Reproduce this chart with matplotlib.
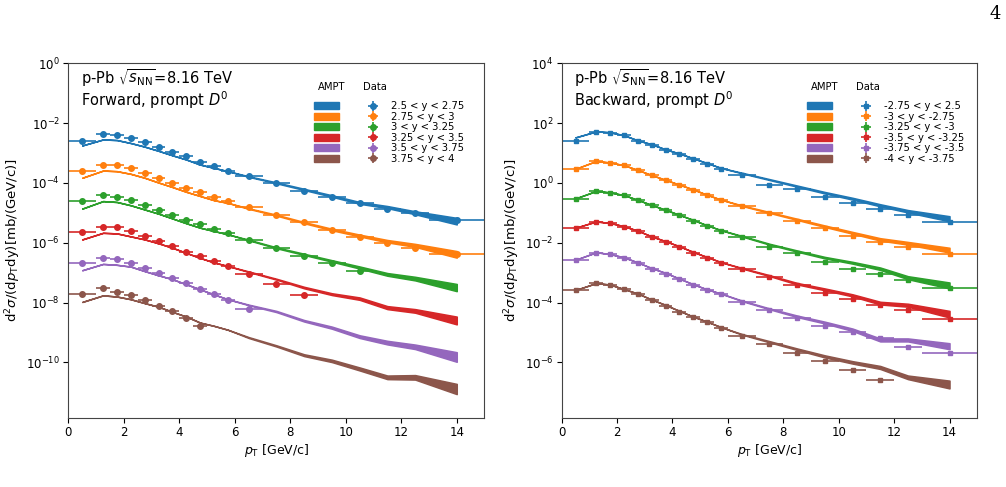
import numpy as np
import matplotlib.pyplot as plt
from matplotlib.patches import Patch

# pT bins [GeV/c]
pt_edges = [0, 1, 1.5, 2, 2.5, 3, 3.5, 4, 4.5, 5, 5.5, 6, 7, 8, 9, 10, 11, 12, 13, 15]

fwd_labels = ['2.5 < y < 2.75', '2.75 < y < 3', '3 < y < 3.25',
              '3.25 < y < 3.5', '3.5 < y < 3.75', '3.75 < y < 4']
bwd_labels = ['-2.75 < y < 2.5', '-3 < y < -2.75', '-3.25 < y < -3',
              '-3.5 < y < -3.25', '-3.75 < y < -3.5', '-4 < y < -3.75']

# log10 of the (scaled) cross sections as plotted
fwd_data = [
    [-2.61, -2.36, -2.40, -2.50, -2.63, -2.79, -2.96, -3.11, -3.29, -3.45, -3.59, -3.78, -4.01, -4.26, -4.48, -4.69, -4.89, -5.00, -5.25],
    [-3.61, -3.39, -3.42, -3.52, -3.68, -3.83, -4.01, -4.18, -4.32, -4.48, -4.61, -4.82, -5.08, -5.32, -5.58, -5.81, -6.00, -6.17, -6.38],
    [-4.61, -4.39, -4.47, -4.58, -4.73, -4.91, -5.07, -5.23, -5.38, -5.55, -5.68, -5.91, -6.19, -6.43, -6.68, -6.96],
    [-5.65, -5.46, -5.49, -5.60, -5.79, -5.96, -6.12, -6.30, -6.46, -6.62, -6.79, -7.06, -7.37, -7.76],
    [-6.69, -6.50, -6.53, -6.69, -6.83, -7.00, -7.19, -7.36, -7.55, -7.70, -7.90, -8.22],
    [-7.73, -7.52, -7.65, -7.76, -7.92, -8.11, -8.28, -8.51, -8.79],
]
fwd_ampt = [
    [-2.75, -2.55, -2.57, -2.67, -2.79, -2.93, -3.08, -3.22, -3.39, -3.50, -3.61, -3.79, -4.00, -4.22, -4.44, -4.67, -4.81, -5.00, -5.28],
    [-3.83, -3.59, -3.61, -3.70, -3.83, -3.99, -4.14, -4.30, -4.44, -4.58, -4.67, -4.86, -5.08, -5.33, -5.56, -5.76, -5.95, -6.09, -6.39],
    [-4.86, -4.61, -4.64, -4.75, -4.89, -5.03, -5.19, -5.35, -5.50, -5.61, -5.72, -5.91, -6.17, -6.39, -6.61, -6.83, -7.06, -7.20, -7.50],
    [-5.89, -5.67, -5.69, -5.79, -5.89, -6.02, -6.17, -6.34, -6.51, -6.66, -6.78, -6.97, -7.22, -7.50, -7.72, -7.87, -8.17, -8.28, -8.60],
    [-6.92, -6.71, -6.74, -6.80, -6.95, -7.09, -7.22, -7.39, -7.56, -7.73, -7.89, -8.08, -8.30, -8.61, -8.84, -9.14, -9.34, -9.48, -9.82],
    [-7.98, -7.76, -7.80, -7.89, -8.02, -8.14, -8.31, -8.47, -8.67, -8.78, -8.91, -9.17, -9.45, -9.76, -9.95, -10.22, -10.50, -10.50, -10.89],
]
# AMPT band width in decades
fwd_band = [
    [0, 0, 0, 0, 0, 0, 0, 0, 0, 0, 0, 0.02, 0.03, 0.04, 0.05, 0.06, 0.07, 0.10, 0.22],
    [0, 0, 0, 0, 0, 0, 0, 0, 0, 0, 0, 0.02, 0.03, 0.04, 0.05, 0.06, 0.08, 0.10, 0.22],
    [0, 0, 0, 0, 0, 0, 0, 0, 0, 0, 0, 0.02, 0.03, 0.04, 0.05, 0.07, 0.09, 0.12, 0.24],
    [0, 0, 0, 0, 0, 0, 0, 0, 0, 0, 0, 0.02, 0.03, 0.05, 0.06, 0.08, 0.10, 0.12, 0.26],
    [0, 0, 0, 0, 0, 0, 0, 0, 0, 0, 0, 0.02, 0.04, 0.05, 0.07, 0.09, 0.12, 0.15, 0.32],
    [0, 0, 0, 0, 0, 0, 0, 0, 0, 0, 0, 0.03, 0.04, 0.06, 0.08, 0.10, 0.12, 0.15, 0.34],
]

bwd_data = [
    [1.39, 1.70, 1.68, 1.59, 1.41, 1.28, 1.11, 0.97, 0.80, 0.63, 0.47, 0.25, -0.06, -0.22, -0.48, -0.67, -0.86, -1.08, -1.30],
    [0.47, 0.72, 0.67, 0.59, 0.42, 0.25, 0.09, -0.07, -0.23, -0.41, -0.58, -0.78, -1.02, -1.28, -1.52, -1.79, -1.97, -2.13, -2.39],
    [-0.53, -0.28, -0.33, -0.42, -0.58, -0.75, -0.91, -1.09, -1.26, -1.45, -1.61, -1.80, -2.13, -2.36, -2.65, -2.87, -3.05, -3.25, -3.53],
    [-1.52, -1.30, -1.35, -1.46, -1.61, -1.80, -1.97, -2.13, -2.33, -2.50, -2.68, -2.89, -3.15, -3.42, -3.67, -3.89, -4.09, -4.25, -4.56],
    [-2.58, -2.33, -2.39, -2.50, -2.68, -2.87, -3.03, -3.22, -3.41, -3.58, -3.72, -3.97, -4.26, -4.52, -4.78, -5.00, -5.20, -5.47, -5.70],
    [-3.59, -3.36, -3.41, -3.56, -3.72, -3.92, -4.10, -4.30, -4.49, -4.66, -4.85, -5.11, -5.39, -5.67, -5.97, -6.25, -6.58],
]
bwd_ampt = [
    [1.52, 1.72, 1.69, 1.59, 1.42, 1.29, 1.12, 0.98, 0.82, 0.66, 0.50, 0.33, 0.11, -0.11, -0.33, -0.53, -0.75, -0.95, -1.20],
    [0.47, 0.73, 0.68, 0.59, 0.43, 0.26, 0.10, -0.06, -0.22, -0.40, -0.56, -0.76, -0.99, -1.22, -1.45, -1.67, -1.89, -2.02, -2.25],
    [-0.52, -0.27, -0.32, -0.41, -0.57, -0.74, -0.90, -1.07, -1.24, -1.42, -1.58, -1.78, -2.05, -2.28, -2.50, -2.67, -2.87, -3.17, -3.43],
    [-1.50, -1.29, -1.34, -1.45, -1.60, -1.79, -1.95, -2.12, -2.31, -2.48, -2.65, -2.85, -3.10, -3.37, -3.56, -3.76, -4.02, -4.09, -4.39],
    [-2.57, -2.32, -2.38, -2.49, -2.66, -2.85, -3.01, -3.20, -3.39, -3.56, -3.70, -3.94, -4.21, -4.46, -4.67, -4.91, -5.25, -5.25, -5.46],
    [-3.58, -3.35, -3.40, -3.55, -3.70, -3.90, -4.08, -4.28, -4.47, -4.64, -4.82, -5.06, -5.31, -5.56, -5.80, -6.00, -6.17, -6.50, -6.74],
]
bwd_band = [
    [0, 0, 0, 0, 0, 0, 0, 0, 0, 0, 0, 0.02, 0.03, 0.04, 0.05, 0.06, 0.07, 0.08, 0.17],
    [0, 0, 0, 0, 0, 0, 0, 0, 0, 0, 0, 0.02, 0.03, 0.04, 0.05, 0.06, 0.08, 0.09, 0.16],
    [0, 0, 0, 0, 0, 0, 0, 0, 0, 0, 0, 0.02, 0.03, 0.04, 0.05, 0.06, 0.08, 0.10, 0.20],
    [0, 0, 0, 0, 0, 0, 0, 0, 0, 0, 0, 0.02, 0.03, 0.05, 0.06, 0.07, 0.09, 0.10, 0.22],
    [0, 0, 0, 0, 0, 0, 0, 0, 0, 0, 0, 0.02, 0.03, 0.05, 0.06, 0.08, 0.10, 0.10, 0.20],
    [0, 0, 0, 0, 0, 0, 0, 0, 0, 0, 0, 0.02, 0.04, 0.05, 0.07, 0.08, 0.10, 0.12, 0.26],
]
stat_rel = 0.15

edges = np.array(pt_edges)
x = (edges[1:] + edges[:-1]) / 2
xerr = (edges[1:] - edges[:-1]) / 2


def draw(ax, data, ampt, band, labels, marker, side, ylim):
    handles = []
    for i in range(6):
        c = 'C%d' % i
        a = np.array(ampt[i])
        w = np.array(band[i])
        ax.fill_between(x, 10 ** (a - w / 2), 10 ** (a + w / 2), color=c, lw=1.1)
        d = 10 ** np.array(data[i])
        n = len(d)
        h = ax.errorbar(x[:n], d, xerr=xerr[:n], yerr=d * stat_rel, fmt=marker,
                        color=c, ms=4 if marker == 'o' else 3.5, elinewidth=1.2, capsize=0)
        handles.append(h)
    ax.set_yscale('log')
    ax.set_xlim(0, 15)
    ax.set_ylim(*ylim)
    ax.set_xticks(range(0, 15, 2))
    ax.tick_params(labelsize=8.5, length=3.5, pad=2.5)
    for s in ax.spines.values():
        s.set_color('#444444')
    ax.set_xlabel(r'$p_{\rm T}$ [GeV/c]', fontsize=9, labelpad=2)
    ax.set_ylabel(r'd$^2\sigma$/(d$p_{\rm T}$dy)[mb/(GeV/c)]', fontsize=9.5, labelpad=2)
    ax.text(0.03, 0.94, r'p-Pb $\sqrt{s_{\rm NN}}$=8.16 TeV', transform=ax.transAxes, fontsize=10.5)
    ax.text(0.03, 0.88, side + r', prompt $D^0$', transform=ax.transAxes, fontsize=10.5)

    patches = [Patch(color='C%d' % i) for i in range(6)]
    leg1 = ax.legend(patches, [''] * 6, loc='upper left', bbox_to_anchor=(0.59, 0.893),
                     frameon=False, fontsize=7.2, handlelength=2.5, labelspacing=0.05,
                     borderpad=0, borderaxespad=0, handletextpad=0)
    ax.add_artist(leg1)
    ax.legend(handles, labels, loc='upper left', bbox_to_anchor=(0.718, 0.893),
              frameon=False, fontsize=7.2, handlelength=1.1, labelspacing=0.05,
              borderpad=0, borderaxespad=0, handletextpad=1.3)
    ax.text(0.633, 0.925, 'AMPT', transform=ax.transAxes, fontsize=7.2, ha='center')
    ax.text(0.737, 0.925, 'Data', transform=ax.transAxes, fontsize=7.2, ha='center')


fig = plt.figure(figsize=(10.06, 4.87), dpi=100)
ax1 = fig.add_axes([0.068, 0.142, 0.4136, 0.7283])
ax2 = fig.add_axes([0.5583, 0.142, 0.4131, 0.7283])

draw(ax1, fwd_data, fwd_ampt, fwd_band, fwd_labels, 'o', 'Forward', (1.4e-12, 1))
draw(ax2, bwd_data, bwd_ampt, bwd_band, bwd_labels, 's', 'Backward', (1.4e-8, 1e4))

fig.text(0.995, 0.99, '4', family='DejaVu Serif', fontsize=13, ha='right', va='top')

fig.savefig('out.png', dpi=100)
